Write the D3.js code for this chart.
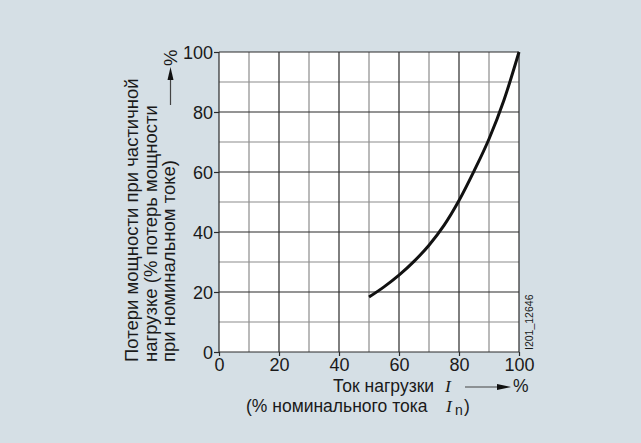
<!DOCTYPE html>
<html><head><meta charset="utf-8">
<script src="https://cdn.jsdelivr.net/npm/d3@7"></script>
<style>html,body{margin:0;padding:0;background:#d5dfe5;}svg{display:block;}</style>
</head><body>
<svg id="c" width="641" height="443"></svg>
<script>
const currentPct = [50, 55, 60, 65, 70, 75, 80, 85, 90, 95, 100];
const lossPct = [18.3, 21.7, 25.6, 30.2, 35.6, 42.2, 50.5, 60.3, 71, 84, 100];
const xTicks = [0, 20, 40, 60, 80, 100];
const yTicks = [0, 20, 40, 60, 80, 100];
const minorTicks = [10, 30, 50, 70, 90];

const svg = d3.select("#c");
const font = "'Liberation Sans', Arial, sans-serif";
const serif = "'Liberation Serif', 'Times New Roman', serif";
const fs = 18.5;
const fx = 17.5;
svg.append("rect").attr("width", 641).attr("height", 443).attr("fill", "#d5dfe5");

const x = d3.scaleLinear().domain([0, 100]).range([219, 519]);
const y = d3.scaleLinear().domain([0, 100]).range([352, 52]);

svg.append("rect").attr("x", x(0)).attr("y", y(100)).attr("width", x(100) - x(0)).attr("height", y(0) - y(100)).attr("fill", "#fff");

const g = svg.append("g");
minorTicks.forEach(v => {
  g.append("line").attr("x1", x(v)).attr("x2", x(v)).attr("y1", y(0)).attr("y2", y(100)).attr("stroke", "#8c8c8c").attr("stroke-width", 1.2);
  g.append("line").attr("x1", x(0)).attr("x2", x(100)).attr("y1", y(v)).attr("y2", y(v)).attr("stroke", "#8c8c8c").attr("stroke-width", 1.2);
});
xTicks.forEach(v => {
  g.append("line").attr("x1", x(v)).attr("x2", x(v)).attr("y1", y(0)).attr("y2", y(100)).attr("stroke", "#2a2a2a").attr("stroke-width", 1.2);
});
yTicks.forEach(v => {
  g.append("line").attr("x1", x(0)).attr("x2", x(100)).attr("y1", y(v)).attr("y2", y(v)).attr("stroke", "#2a2a2a").attr("stroke-width", 1.2);
});

const xAxis = d3.axisBottom(x).tickValues(xTicks).tickSize(4).tickPadding(2);
const yAxis = d3.axisLeft(y).tickValues(yTicks).tickSize(5).tickPadding(1);
const gx = svg.append("g").attr("transform", `translate(0,${y(0)})`).call(xAxis);
const gy = svg.append("g").attr("transform", `translate(${x(0)},0)`).call(yAxis);
[gx, gy].forEach(a => {
  a.select(".domain").remove();
  a.selectAll("line").attr("stroke", "#2a2a2a").attr("stroke-width", 1.2);
  a.selectAll("text").attr("font-family", font).attr("font-size", 18).attr("fill", "#1a1a1a");
});
gy.selectAll("text").attr("dy", "0.36em");

const line = d3.line().x((d, i) => x(currentPct[i])).y(d => y(d)).curve(d3.curveMonotoneX);
svg.append("path").datum(lossPct).attr("d", line).attr("fill", "none").attr("stroke", "#111").attr("stroke-width", 3);

// y label
const yl = svg.append("text").attr("font-family", font).attr("font-size", fs).attr("fill", "#1a1a1a")
  .attr("transform", "translate(0,362) rotate(-90)");
["Потери мощности при частичной", "нагрузке (% потерь мощности", "при номинальном токе)"].forEach((t, i) => {
  yl.append("tspan").attr("x", 0).attr("y", 138 + i * 18.5).text(t);
});
svg.append("text").attr("font-family", font).attr("font-size", fs).attr("fill", "#1a1a1a")
  .attr("transform", "translate(177,66) rotate(-90)").text("%");
svg.append("line").attr("x1", 170.5).attr("x2", 170.5).attr("y1", 105).attr("y2", 78).attr("stroke", "#444").attr("stroke-width", 1.2);
svg.append("path").attr("d", "M170.5,67 L167.5,80 L173.5,80 Z").attr("fill", "#111");

// x label line 1
svg.append("text").attr("font-family", font).attr("font-size", fx).attr("fill", "#1a1a1a").attr("x", 333).attr("y", 392).text("Ток нагрузки");
svg.append("text").attr("font-family", serif).attr("font-style", "italic").attr("font-size", fx).attr("fill", "#1a1a1a").attr("x", 445).attr("y", 392).text("I");
svg.append("line").attr("x1", 465).attr("x2", 500).attr("y1", 387).attr("y2", 387).attr("stroke", "#444").attr("stroke-width", 1.2);
svg.append("path").attr("d", "M511,387 L497,384 L497,390 Z").attr("fill", "#111");
svg.append("text").attr("font-family", font).attr("font-size", fx).attr("fill", "#1a1a1a").attr("x", 513).attr("y", 392).text("%");

// x label line 2
svg.append("text").attr("font-family", font).attr("font-size", fx).attr("fill", "#1a1a1a").attr("x", 246).attr("y", 411.5).text("(% номинального тока");
svg.append("text").attr("font-family", serif).attr("font-style", "italic").attr("font-size", fx).attr("fill", "#1a1a1a").attr("x", 446).attr("y", 411.5).text("I");
svg.append("text").attr("font-family", font).attr("font-size", 14).attr("fill", "#1a1a1a").attr("x", 455).attr("y", 415).text("n");
svg.append("text").attr("font-family", font).attr("font-size", fx).attr("fill", "#1a1a1a").attr("x", 464).attr("y", 411.5).text(")");

svg.append("text").attr("font-family", font).attr("font-size", 10.5).attr("fill", "#1a1a1a")
  .attr("transform", "translate(533,350) rotate(-90)").text("I201_12646");
</script>
</body></html>
